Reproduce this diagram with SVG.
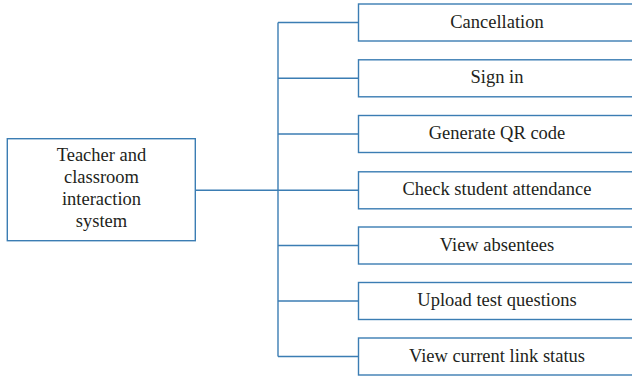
<svg xmlns="http://www.w3.org/2000/svg" width="632" height="379" viewBox="0 0 632 379">
  <style>
    .box { fill: #ffffff; stroke: #3b7db3; stroke-width: 1.4; }
    .link { fill: none; stroke: #3b7db3; stroke-width: 1.4; }
    .label { font-family: 'Liberation Serif', 'DejaVu Serif', serif; font-size: 18.5px; fill: #231f20; text-anchor: middle; }
  </style>
  <rect width="632" height="379" fill="#ffffff"/>

  <!-- connectors: trunk from the root box to the branch spine and out to each item -->
  <g id="connectors">
    <path class="link" d="M195.3 190.3 H278"/>
    <path class="link" d="M278 22.5 V356.5"/>
    <path class="link" d="M278 22.5 H358.5"/>
    <path class="link" d="M278 78.3 H358.5"/>
    <path class="link" d="M278 134 H358.5"/>
    <path class="link" d="M278 190.3 H358.5"/>
    <path class="link" d="M278 245.5 H358.5"/>
    <path class="link" d="M278 301 H358.5"/>
    <path class="link" d="M278 356.5 H358.5"/>
  </g>

  <!-- root node -->
  <g id="root">
    <rect class="box" x="7.3" y="138.7" width="188" height="102"/>
    <text class="label" x="101.5" y="160.7">Teacher and</text>
    <text class="label" x="101.5" y="182.8">classroom</text>
    <text class="label" x="101.5" y="204.9">interaction</text>
    <text class="label" x="101.5" y="226.8">system</text>
  </g>

  <!-- function nodes -->
  <g id="cancellation">
    <rect class="box" x="358.5" y="4" width="290" height="37"/>
    <text class="label" x="497" y="27.6">Cancellation</text>
  </g>
  <g id="sign-in">
    <rect class="box" x="358.5" y="59.8" width="290" height="37"/>
    <text class="label" x="497" y="83.4">Sign in</text>
  </g>
  <g id="generate-qr">
    <rect class="box" x="358.5" y="115.5" width="290" height="37"/>
    <text class="label" x="497" y="139.1">Generate QR code</text>
  </g>
  <g id="check-attendance">
    <rect class="box" x="358.5" y="171.8" width="290" height="37"/>
    <text class="label" x="497" y="195.4">Check student attendance</text>
  </g>
  <g id="view-absentees">
    <rect class="box" x="358.5" y="227" width="290" height="37"/>
    <text class="label" x="497" y="250.6">View absentees</text>
  </g>
  <g id="upload-questions">
    <rect class="box" x="358.5" y="282.5" width="290" height="37"/>
    <text class="label" x="497" y="306.1">Upload test questions</text>
  </g>
  <g id="link-status">
    <rect class="box" x="358.5" y="338" width="290" height="37"/>
    <text class="label" x="497" y="361.6">View current link status</text>
  </g>
</svg>
